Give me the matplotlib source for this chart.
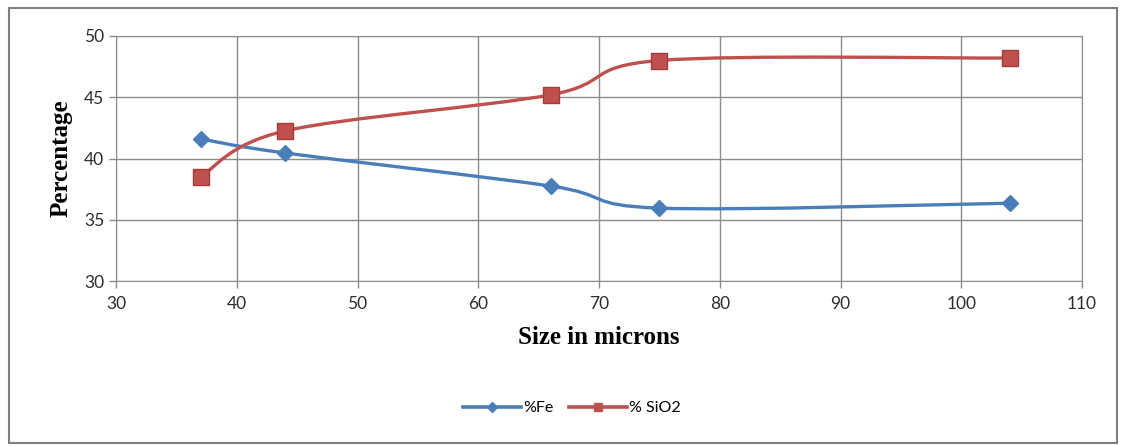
import numpy as np
import matplotlib.pyplot as plt
from matplotlib.path import Path
from matplotlib.patches import PathPatch, Rectangle
from matplotlib.lines import Line2D

size_microns = [37, 44, 66, 75, 104]
pct_fe = [41.6, 40.45, 37.75, 35.95, 36.35]
pct_sio2 = [38.5, 42.25, 45.2, 48.0, 48.2]

blue = '#4a7ebb'
red = '#c0504d'
grid_color = '#8c8c8c'


def smooth_path(xs, ys):
    # cubic bezier segments through every point (Catmull-Rom style tangents)
    pts = np.column_stack([xs, ys]).astype(float)
    n = len(pts)
    verts = [pts[0]]
    codes = [Path.MOVETO]
    for i in range(n - 1):
        p0 = pts[i - 1] if i > 0 else pts[i]
        p1 = pts[i]
        p2 = pts[i + 1]
        p3 = pts[i + 2] if i + 2 < n else pts[i + 1]
        c1 = p1 + (p2 - p0) / 6.0
        c2 = p2 - (p3 - p1) / 6.0
        verts += [c1, c2, p2]
        codes += [Path.CURVE4] * 3
    return Path(verts, codes)


fig = plt.figure(figsize=(11.22, 4.46), dpi=100)
ax = fig.add_axes([116 / 1122, 1 - 281 / 446, (1082 - 116) / 1122, (281 - 36) / 446])

ax.add_patch(PathPatch(smooth_path(size_microns, pct_fe), facecolor='none',
                       edgecolor=blue, linewidth=2.4, zorder=3))
ax.add_patch(PathPatch(smooth_path(size_microns, pct_sio2), facecolor='none',
                       edgecolor=red, linewidth=2.4, zorder=3))
ax.plot(size_microns, pct_fe, linestyle='none', marker='D', markersize=8.5,
        color=blue, markeredgecolor=blue, zorder=4)
ax.plot(size_microns, pct_sio2, linestyle='none', marker='s', markersize=12,
        color=red, markeredgecolor='#a33c39', zorder=4)

ax.set_xlim(30, 110)
ax.set_ylim(30, 50)
ax.set_xticks(range(30, 111, 10))
ax.set_yticks(range(30, 51, 5))
ax.grid(True, color=grid_color, linewidth=1.0)
ax.set_axisbelow(True)
for side in ax.spines.values():
    side.set_color(grid_color)
ax.tick_params(colors=grid_color, length=5, width=1, labelsize=12.5, labelcolor='#2e2e2e')
for lab in ax.get_xticklabels() + ax.get_yticklabels():
    lab.set_family('Lato')
ax.tick_params(axis='x', pad=6)

ax.set_xlabel('Size in microns', family='Liberation Serif', fontweight='bold',
              fontsize=18, labelpad=10)
ax.set_ylabel('Percentage', family='Liberation Serif', fontweight='bold',
              fontsize=18, labelpad=8)

handles = [
    Line2D([], [], color=blue, linewidth=2.6, marker='D', markersize=5),
    Line2D([], [], color=red, linewidth=2.6, marker='s', markersize=6),
]
fig.legend(handles, ['%Fe', '% SiO2'], loc='center', bbox_to_anchor=(572 / 1122, 1 - 408 / 446),
           ncol=2, frameon=False, handlelength=3.6, columnspacing=1.0,
           handletextpad=0.15, prop={'family': 'Lato', 'size': 11.5})

# outer chart border
fig.patches.append(Rectangle((9 / 1122, 3 / 446), 1108 / 1122, 435 / 446,
                             transform=fig.transFigure, fill=False,
                             edgecolor='#7f7f7f', linewidth=1.5))

fig.savefig('out.png', dpi=100, facecolor='white')
